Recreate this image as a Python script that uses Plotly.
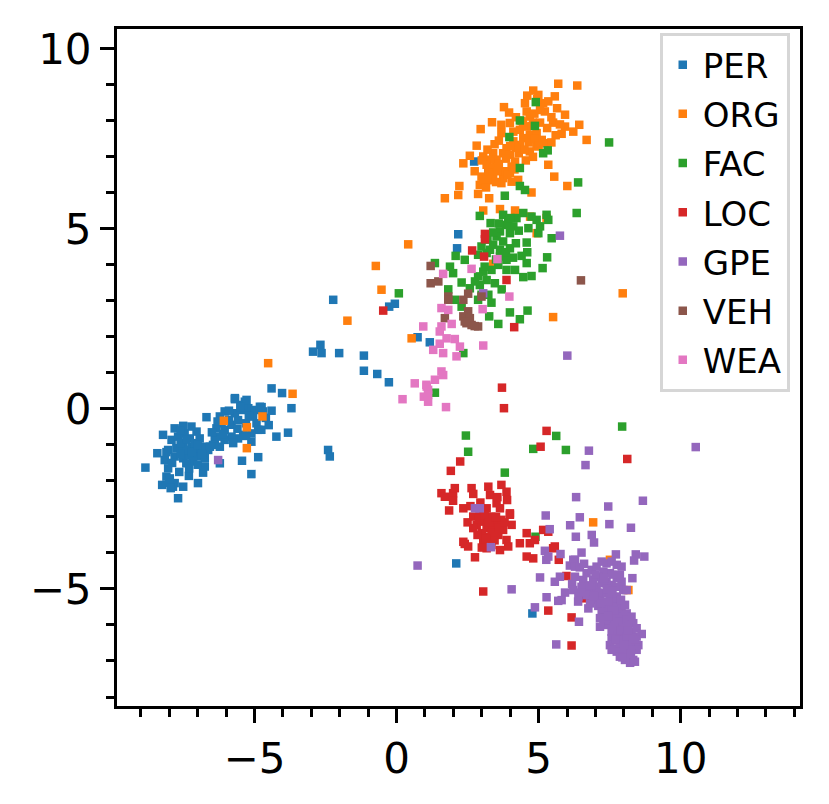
import plotly.graph_objects as go

# category order matches the legend (later ones drawn on top)
labels = ["PER", "ORG", "FAC", "LOC", "GPE", "VEH", "WEA"]
colors = ["#1f77b4", "#ff7f0e", "#2ca02c", "#d62728", "#9467bd", "#8c564b", "#e377c2"]

PER = [
    (-5.69, 0.27), (-5.34, 0.20), (-6.05, -0.07), (-6.22, -0.21), (-6.16, -0.40), (-6.34, -0.54),
    (-6.05, -0.58), (-5.81, -0.44), (-5.58, -0.31), (-5.69, -0.12), (-5.46, -0.03), (-5.22, 0.02),
    (-4.99, -0.03), (-4.81, 0.06), (-4.70, -0.07), (-5.05, -0.21), (-4.93, -0.40), (-4.87, -0.58),
    (-5.11, -0.68), (-5.40, -0.72), (-5.58, -0.82), (-5.81, -0.77), (-6.05, -0.86), (-6.22, -0.77),
    (-6.40, -0.86), (-6.46, -1.00), (-6.22, -1.05), (-6.63, -1.14), (-6.75, -1.05), (-5.11, -0.91),
    (-4.76, -0.58), (-5.40, 0.11), (-6.69, -0.23), (-5.69, 0.30), (-5.28, 0.25),
    (-5.90, -0.30), (-5.60, -0.55), (-5.30, -0.40), (-5.20, -0.20), (-5.50, 0.05), (-5.90, -0.05),
    (-6.30, -0.35), (-6.10, -0.70), (-5.30, -0.75), (-4.60, -0.25), (-4.50, -0.45), (-5.75, -0.95),
    (-6.50, -0.65),
    (-4.40, 0.57), (-4.03, 0.44), (-3.70, 0.02), (-3.82, -0.66), (-4.23, -0.77), (-4.75, 0.05),
    (-4.40, -0.05), (-5.44, -1.44), (-4.87, -1.34), (-5.11, -1.81), (-6.22, -1.51),
    (-8.22, -0.72), (-8.42, -1.23), (-8.84, -1.63), (-7.69, -2.48), (-8.25, -2.11), (-7.87, -2.16),
    (-7.51, -2.16), (-6.99, -2.06), (-7.31, -1.86), (-6.81, -1.77), (-8.04, -1.65), (-8.10, -1.88),
    (-7.81, -0.54), (-7.51, -0.47), (-7.22, -0.49), (-7.04, -0.63), (-6.93, -0.82), (-7.92, -0.86),
    (-7.69, -0.77), (-7.46, -0.68), (-7.28, -0.82), (-8.04, -1.14), (-7.75, -1.09), (-7.51, -1.05),
    (-7.22, -1.05), (-7.04, -1.14), (-6.81, -1.09), (-6.57, -1.05), (-7.81, -1.32), (-7.51, -1.37),
    (-7.28, -1.28), (-6.99, -1.32), (-6.75, -1.37), (-7.16, -1.46), (-7.40, -1.51), (-8.16, -1.42),
    (-6.75, -1.60), (-7.98, -1.93), (-7.81, -2.06), (-7.39, -1.14), (-7.60, -0.95), (-7.10, -0.95),
    (-7.60, -0.60), (-7.40, -0.85), (-7.20, -1.20), (-7.00, -1.00), (-7.60, -1.25), (-7.90, -1.50),
    (-8.00, -2.05), (-8.10, -1.20), (-7.30, -1.65), (-7.00, -1.55), (-6.85, -1.25), (-7.65, -1.75),
    (-7.95, -2.20),
    (-2.41, -1.14), (-2.35, -1.32), (-2.23, 3.03), (-2.94, 1.59), (-2.68, 1.78), (-2.64, 1.55),
    (-2.02, 1.55), (-1.15, 1.48), (-1.15, 1.06), (-0.68, 0.97), (-0.27, 0.74), (-0.26, 2.84),
    (-0.06, 2.92), (2.73, 6.87), (3.23, 6.59), (2.17, 4.85), (2.13, 4.46), (1.17, 1.85),
    (0.74, 1.99), (2.10, -4.29), (4.78, -5.68),
]

ORG = [
    (5.69, 9.03), (6.36, 8.98), (4.81, 8.84), (4.99, 8.72), (5.57, 8.68), (3.78, 8.38), (3.96, 8.23),
    (4.52, 8.49), (4.58, 8.26), (4.69, 8.12), (5.16, 8.49), (5.22, 8.26), (5.34, 8.54), (5.93, 8.17),
    (3.36, 7.96), (2.96, 7.77), (5.51, 7.95), (5.93, 7.84), (6.22, 7.70), (6.43, 7.89), (5.81, 7.64),
    (6.69, 7.47), (3.69, 7.89), (3.69, 7.66), (3.99, 7.94), (4.11, 7.70), (4.34, 7.75), (4.58, 7.84),
    (4.69, 7.61), (4.46, 7.52), (4.93, 7.66), (5.11, 7.47), (5.22, 7.38), (4.34, 7.33), (4.11, 7.43),
    (3.87, 7.24), (3.75, 7.10), (3.40, 7.10), (3.52, 6.92), (3.29, 6.92), (3.99, 7.06), (4.17, 6.87),
    (4.05, 6.73), (4.69, 7.15), (4.93, 7.29), (2.82, 7.31), (2.58, 7.03), (2.35, 6.82), (3.05, 7.01),
    (3.17, 6.78), (3.40, 6.69), (2.99, 6.45), (3.23, 6.55), (3.40, 6.50), (2.93, 6.22), (3.05, 6.36),
    (3.69, 6.27), (3.75, 6.41), (3.99, 6.55), (4.05, 6.31), (4.28, 6.36), (5.34, 6.78), (5.55, 6.45),
    (6.01, 6.19), (4.75, 6.01), (2.21, 6.19), (2.17, 5.94), (1.70, 5.85), (2.87, 5.97), (3.26, 5.85),
    (3.05, 5.51), (3.64, 5.55), (4.17, 5.51), (4.70, 5.34), (4.93, 4.88), (5.28, 5.30), (3.40, 4.03),
    (4.40, 8.00), (4.80, 7.95), (3.60, 7.45), (4.30, 7.10), (3.80, 6.60),
    (4.20, 8.10), (4.45, 7.95), (4.75, 7.85), (5.05, 7.95), (5.30, 7.80), (5.45, 8.10), (5.05, 8.30),
    (4.85, 8.20), (4.65, 7.40), (4.85, 7.50), (4.50, 7.20), (4.20, 7.25), (4.00, 7.30), (3.85, 6.95),
    (3.60, 6.80), (3.55, 6.60), (3.30, 6.35), (3.15, 6.15), (3.50, 6.30), (3.90, 6.50), (4.15, 6.65),
    (4.55, 6.90), (4.80, 7.00), (5.00, 7.30), (5.45, 7.40), (5.60, 7.60), (5.75, 7.90), (5.65, 8.35),
    (4.95, 8.60), (4.60, 8.70), (3.45, 7.35), (3.20, 7.20), (3.00, 6.90), (2.75, 6.60),
    (0.41, 4.57), (-0.73, 3.97), (-0.53, 3.31), (-1.73, 2.45), (0.53, 1.96), (7.96, 3.21), (5.51, 2.55),
    (-6.08, -0.33), (-5.27, -0.51), (-4.72, -0.21), (-5.27, -1.09), (-3.66, 0.42), (-4.52, 1.27),
    (6.92, -3.15), (8.16, -5.03), (7.51, -4.19),
]

FAC = [
    (4.90, 8.52), (4.34, 8.01), (4.87, 7.86), (3.97, 7.55), (5.16, 7.10), (5.32, 7.18), (7.48, 7.40),
    (4.34, 6.69), (4.34, 6.19), (4.52, 6.08), (3.81, 5.92), (6.39, 6.29), (6.34, 5.44),
    (2.93, 5.36), (3.31, 5.16), (3.75, 5.39), (3.93, 5.23), (4.22, 5.30), (4.46, 5.44), (4.75, 5.34),
    (4.93, 5.25), (5.28, 5.39), (5.34, 5.25), (5.05, 5.07), (4.64, 5.02), (4.99, 4.88), (4.11, 5.07),
    (3.87, 5.11), (3.64, 4.93), (3.99, 4.88), (3.52, 4.79), (3.75, 4.65), (3.99, 4.46), (3.64, 4.42),
    (3.40, 4.56), (3.29, 4.42), (3.64, 4.23), (3.87, 4.14), (3.58, 4.00), (3.34, 3.86), (3.05, 3.81),
    (2.87, 3.68), (3.17, 3.58), (3.46, 3.49), (2.93, 3.44), (2.76, 3.54), (3.70, 3.32), (3.87, 3.86),
    (4.17, 3.86), (4.46, 3.66), (4.75, 3.69), (4.58, 4.05), (4.40, 4.25), (5.14, 3.91), (5.30, 4.21),
    (5.46, 4.74), (4.58, 4.62), (2.08, 4.25), (2.40, 4.14), (1.88, 3.95), (1.99, 3.77), (2.29, 3.51),
    (1.82, 3.32), (3.23, 3.17), (3.26, 2.57), (3.58, 2.36), (3.99, 2.68), (4.34, 2.49), (4.61, 2.73),
    (2.29, 2.84), (2.58, 3.35), (2.99, 3.17), (2.35, 1.55), (1.35, 0.45), (1.35, 4.05), (0.08, 3.21),
    (2.99, 4.51), (2.87, 4.28), (3.17, 4.33), (2.05, 3.03), (2.87, 3.03), (3.34, 2.95),
    (3.20, 4.70), (3.40, 4.90), (3.60, 5.15), (4.00, 5.30), (4.30, 4.95), (4.20, 4.60), (3.85, 4.35),
    (3.50, 4.15), (3.10, 3.95), (4.10, 4.20), (4.60, 4.35),
    (2.44, -0.74), (2.52, -1.19), (3.81, -1.77), (4.81, -1.11), (5.62, -0.75), (5.96, -1.14),
    (7.94, -0.49), (4.89, -3.55),
]

LOC = [
    (3.11, 4.86), (3.11, 4.71), (2.66, 4.40), (3.08, 4.23), (3.87, 3.58), (4.14, 2.27), (3.71, 0.59),
    (-0.47, 2.73), (3.78, 0.02), (5.28, -0.61), (5.07, -1.05), (8.12, -1.39), (2.24, -1.46),
    (1.91, -1.72), (1.58, -2.34), (1.70, -2.44), (1.99, -2.34), (2.05, -2.20), (1.99, -2.55),
    (1.85, -2.82), (2.35, -2.76), (2.64, -2.20), (2.70, -2.36), (3.23, -2.16), (3.29, -2.39),
    (3.69, -2.11), (3.87, -2.30), (3.89, -2.53), (3.52, -2.62), (3.64, -2.76), (3.99, -2.94),
    (2.70, -2.99), (2.93, -2.90), (3.17, -2.76), (3.34, -2.99), (3.05, -3.13), (2.82, -3.22),
    (3.17, -3.31), (3.46, -3.18), (3.69, -3.08), (3.75, -3.36), (3.58, -3.50), (3.29, -3.55),
    (3.05, -3.64), (3.87, -3.64), (3.93, -3.82), (3.64, -3.92), (3.17, -3.87), (3.34, -3.78),
    (2.70, -3.31), (2.35, -3.69), (2.52, -3.82), (2.40, -3.75), (2.76, -4.12), (3.99, -2.90),
    (4.05, -3.22), (4.58, -3.45), (4.34, -3.73), (4.69, -3.73), (4.87, -3.64), (5.16, -3.36),
    (5.34, -3.41), (4.58, -4.10), (4.81, -4.15), (5.57, -3.82), (3.05, -5.07), (5.34, -5.60),
    (6.16, -5.79), (6.16, -6.57), (5.71, -4.19), (5.98, -4.64), (6.63, -5.26), (5.51, -3.87),
    (3.00, -3.45), (3.40, -3.30), (2.95, -2.60),
    (2.90, -3.05), (3.10, -2.95), (3.25, -3.15), (3.50, -3.00), (3.35, -3.45), (3.15, -3.60),
    (3.45, -3.65), (2.85, -3.50), (3.60, -3.30), (3.80, -3.15), (2.60, -2.70), (3.00, -3.85),
    (3.55, -2.45), (2.50, -3.15),
]

GPE = [
    (10.53, -1.06), (6.77, -1.16), (6.65, -1.56), (6.32, -2.45), (8.67, -2.55), (7.45, -2.71),
    (5.25, -2.96), (6.45, -3.01), (5.39, -3.34), (6.11, -3.23), (7.49, -3.20), (8.25, -3.30),
    (6.31, -3.55), (6.87, -3.50), (6.95, -3.71), (5.22, -3.94), (5.27, -4.19), (5.34, -4.10),
    (5.77, -4.03), (6.51, -3.99), (7.72, -4.04), (8.42, -4.04), (8.72, -4.10), (8.36, -4.21),
    (6.28, -4.19), (6.10, -4.35), (5.05, -4.68), (5.75, -4.66), (5.57, -4.80), (6.18, -4.86),
    (8.30, -4.70), (4.05, -5.01), (5.93, -5.10), (5.81, -5.31), (5.69, -5.33), (5.28, -5.23),
    (4.87, -5.51), (6.39, -5.35), (6.75, -5.54), (6.42, -5.91), (5.62, -6.54), (2.76, -2.76),
    (2.93, -2.76), (3.32, -3.84), (0.74, -4.35), (6.22, -4.19), (6.28, -4.38), (6.45, -4.40),
    (6.57, -4.75), (6.69, -4.56), (6.87, -4.47), (7.04, -4.38), (7.22, -4.24), (7.39, -4.29),
    (7.57, -4.24), (7.75, -4.33), (7.92, -4.38), (7.86, -4.61), (7.92, -4.80), (7.75, -4.70),
    (7.51, -4.56), (7.28, -4.52), (7.10, -4.66), (6.92, -4.75), (6.75, -4.94), (6.87, -5.07),
    (7.04, -4.94), (7.22, -4.84), (7.39, -4.80), (7.57, -4.89), (7.75, -4.94), (7.98, -5.03),
    (8.10, -5.03), (6.69, -5.17), (6.92, -5.31), (7.16, -5.26), (7.34, -5.12), (7.51, -5.17),
    (7.75, -5.21), (7.63, -5.35), (7.34, -5.40), (7.10, -5.47), (6.81, -5.40), (7.22, -5.63),
    (7.39, -5.58), (7.57, -5.54), (7.75, -5.49), (7.92, -5.54), (8.04, -5.44), (8.10, -5.68),
    (7.92, -5.72), (7.75, -5.77), (7.57, -5.77), (7.34, -5.81), (7.16, -5.81), (7.28, -5.95),
    (7.45, -6.00), (7.69, -5.95), (7.86, -5.91), (8.10, -5.86), (8.27, -5.77), (8.33, -5.95),
    (8.16, -6.05), (7.92, -6.09), (7.75, -6.14), (7.57, -6.19), (7.80, -6.28), (8.04, -6.23),
    (8.27, -6.19), (8.45, -6.09), (8.63, -6.25), (8.45, -6.32), (8.22, -6.37), (7.98, -6.42),
    (7.75, -6.42), (7.57, -6.37), (7.51, -6.56), (7.69, -6.65), (7.86, -6.60), (8.10, -6.56),
    (8.33, -6.51), (8.51, -6.56), (8.45, -6.69), (8.22, -6.69), (7.98, -6.74), (7.75, -6.74),
    (7.57, -6.69), (7.86, -6.88), (8.10, -6.93), (8.33, -6.97), (8.22, -7.05), (8.39, -7.02),
    (8.04, -6.97), (6.22, -5.03), (6.40, -5.21), (6.28, -4.66), (6.51, -4.94), (7.39, -5.86),
    (7.16, -6.05),
    (7.00, -4.60), (7.30, -4.70), (7.60, -4.60), (7.10, -5.10), (7.40, -5.00), (7.60, -5.05),
    (6.95, -5.20), (7.20, -5.40), (7.45, -5.35), (7.65, -5.60), (7.90, -5.30), (7.45, -5.75),
    (7.65, -6.05), (7.90, -6.15), (8.10, -6.30), (8.30, -6.35), (8.00, -6.55), (8.25, -6.80),
    (7.95, -6.90), (8.15, -6.15), (8.40, -6.40), (7.70, -6.40), (6.60, -4.30), (6.85, -4.90),
    (6.50, -5.10),
    (5.75, 4.81), (6.01, 1.48), (3.05, 3.21), (-6.28, -1.42),
]

VEH = [
    (1.20, 3.97), (1.20, 3.49), (1.47, 3.54), (1.82, 3.12), (1.82, 3.03), (2.35, 3.03), (2.52, 3.20),
    (2.99, 3.12), (2.52, 2.71), (2.35, 2.57), (2.46, 2.38), (2.64, 2.33), (2.87, 2.29), (2.58, 2.52),
    (1.70, 2.52), (6.49, 3.57), (2.40, 2.43), (2.75, 2.30),
]

WEA = [
    (3.55, 4.16), (2.64, 3.89), (1.64, 3.75), (3.97, 3.12), (3.03, 2.77), (1.58, 2.80), (1.82, 2.75),
    (0.94, 2.29), (1.58, 2.29), (1.52, 2.15), (1.94, 2.36), (1.76, 1.96), (2.05, 1.94), (2.23, 1.73),
    (2.11, 1.46), (1.64, 1.55), (1.29, 1.64), (1.52, 1.81), (3.05, 1.76), (1.58, 1.04), (1.64, 0.94),
    (1.35, 0.81), (0.64, 0.71), (1.05, 0.67), (1.11, 0.53), (0.96, 0.34), (1.11, 0.20), (0.21, 0.27),
    (1.74, 0.05), (1.06, 0.62), (1.11, 0.39),
]

series = [PER, ORG, FAC, LOC, GPE, VEH, WEA]

fig = go.Figure()
for name, col, pts in zip(labels, colors, series):
    xs, ys = zip(*pts)
    fig.add_trace(go.Scatter(x=xs, y=ys, mode="markers", name=name, legendgroup=name,
                             marker=dict(symbol="square", size=8.5, color=col, line=dict(width=0))))

axis_style = dict(
    showline=True, linecolor="black", linewidth=3, mirror=True,
    ticks="outside", ticklen=14, tickwidth=3, tickcolor="black",
    showgrid=False, zeroline=False,
    tickfont=dict(family="DejaVu Sans", size=42, color="black"),
)
fig.update_xaxes(range=[-9.84, 14.2], tickvals=[-5, 0, 5, 10],
                 minor=dict(ticks="outside", ticklen=8, tickwidth=2.5, dtick=1, tick0=0, tickcolor="black"),
                 **axis_style)
fig.update_yaxes(range=[-8.25, 10.55], tickvals=[-5, 0, 5, 10],
                 minor=dict(ticks="outside", ticklen=8, tickwidth=2.5, dtick=1, tick0=0, tickcolor="black"),
                 **axis_style)

# page body has an 8px margin, so the figure is sized to fit inside the window
fig.update_layout(
    width=821, height=796,
    margin=dict(l=109, r=29, t=21, b=98),
    plot_bgcolor="white", paper_bgcolor="white",
    font=dict(family="DejaVu Sans", color="black"),
    legend=dict(x=0.985, y=0.994, xanchor="right", yanchor="top",
                font=dict(family="DejaVu Sans", size=34, color="black"),
                bgcolor="rgba(255,255,255,0.8)", bordercolor="#d6d6d6", borderwidth=3,
                itemwidth=30, tracegroupgap=2),
)

fig.write_html("out.html")
